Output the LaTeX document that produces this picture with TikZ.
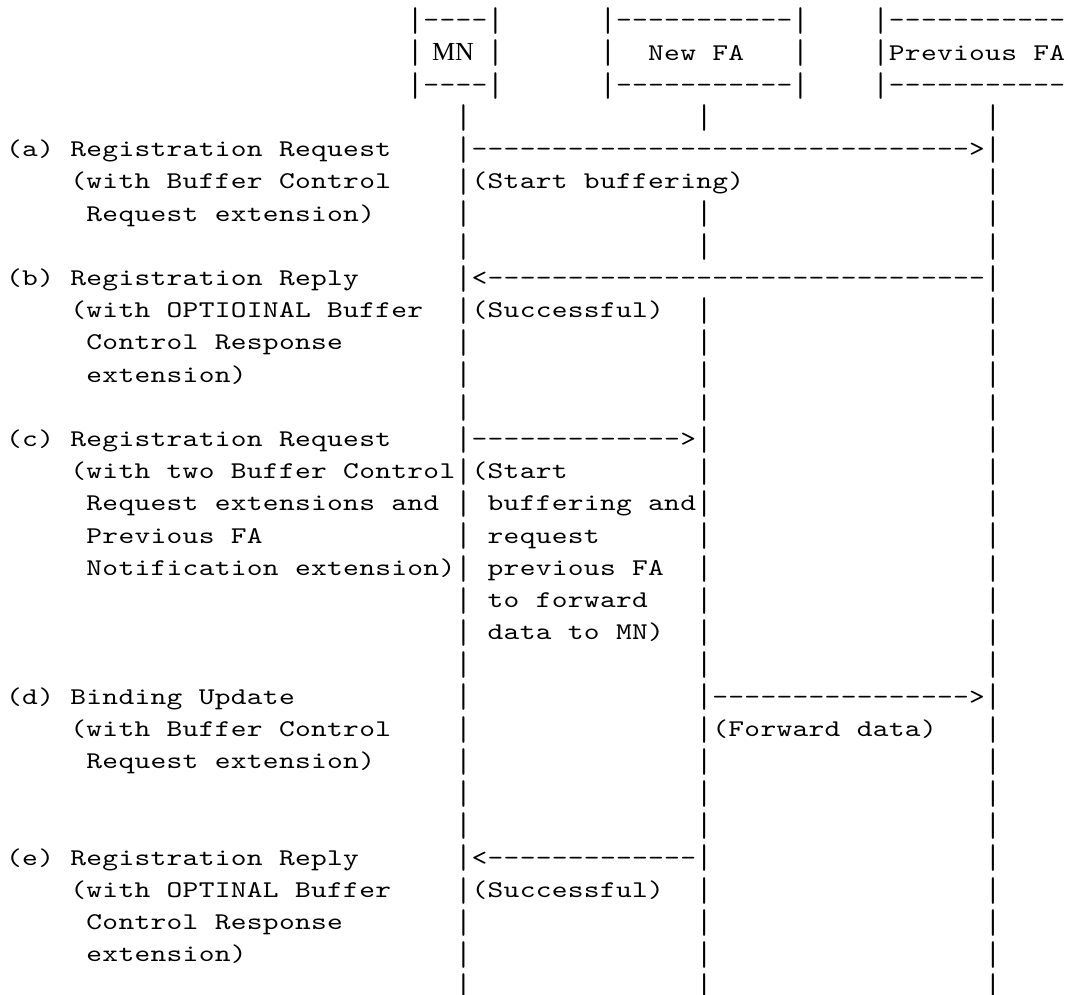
\documentclass[tikz,border=0pt]{standalone}
\usepackage{fontspec}
\usepackage{graphicx}
\newfontfamily\asciifont{lmmono10-regular.otf}[FakeStretch=1.25]
\newfontfamily\mnfont{Liberation Serif}
\newdimen\cw \cw=16.05pt
\def\gtbar{\raisebox{-3.84pt}{\scalebox{1}[1.43]{|}}}
\def\gtchar#1{\ifx#1~\hbox to\cw{\hss}\else\ifx#1|\hbox to\cw{\hss\gtbar\hss}\else\hbox to\cw{\hss#1\hss}\fi\fi}
\def\gtloop#1{\ifx#1\relax\else\gtchar{#1}\expandafter\gtloop\fi}
\newcommand\gt[1]{\gtloop#1\relax}
\newcommand\rep[2]{\foreach\i in {1,...,#1}{\gtchar{#2}}}
\tikzset{asc/.style={inner sep=0pt, outer sep=0pt, anchor=base west,
  font=\asciifont\fontsize{24pt}{30pt}\selectfont}}
\newcommand\seg[4]{\node[asc] (#1) at ({(6+#2*16.05)*1pt}, {-(27.9+#3*32.2)*1pt}) {\gt{#4}};}
\newcommand\arr[4]{\node[asc] (#1) at ({(6+#2*16.05)*1pt}, {-(27.9+#3*32.2)*1pt}) {#4};}
\begin{document}
\begin{tikzpicture}
\useasboundingbox (0,0) rectangle (1070pt,-994pt);
% header boxes
\seg{h0a}{25}{0}{|----|}
\seg{h0b}{37}{0}{|-----------|}
\seg{h0c}{54}{0}{|-----------}
\seg{h1a}{25}{1}{|}
\seg{h1b}{30}{1}{|}
\node[inner sep=0pt, anchor=base, font=\mnfont\fontsize{26pt}{30pt}\selectfont] (mn) at (453pt, {-(27.9+32.2)*1pt}) {MN};
\seg{h1c}{37}{1}{|~~New~FA~~~|}
\seg{h1d}{54}{1}{|Previous~FA}
\seg{h2a}{25}{2}{|----|}
\seg{h2b}{37}{2}{|-----------|}
\seg{h2c}{54}{2}{|-----------}
% lifelines
\foreach \r in {3,...,30} {\seg{mnl\r}{28}{\r}{|}\seg{pfl\r}{61}{\r}{|}}
\foreach \r in {3,6,7,9,10,...,30} {\seg{nfl\r}{43}{\r}{|}}
% messages
\arr{a4}{29}{4}{\rep{31}{-}\gtchar{>}}
\arr{a8}{29}{8}{\gtchar{<}\rep{31}{-}}
\arr{a13}{29}{13}{\rep{13}{-}\gtchar{>}}
\arr{a21}{44}{21}{\rep{16}{-}\gtchar{>}}
\arr{a26}{29}{26}{\gtchar{<}\rep{13}{-}}
% left labels
\seg{t4}{0}{4}{(a)~Registration~Request}
\seg{t5}{4}{5}{(with~Buffer~Control}
\seg{t6}{5}{6}{Request~extension)}
\seg{t8}{0}{8}{(b)~Registration~Reply}
\seg{t9}{4}{9}{(with~OPTIOINAL~Buffer}
\seg{t10}{5}{10}{Control~Response}
\seg{t11}{5}{11}{extension)}
\seg{t13}{0}{13}{(c)~Registration~Request}
\seg{t14}{4}{14}{(with~two~Buffer~Control}
\seg{t15}{5}{15}{Request~extensions~and}
\seg{t16}{5}{16}{Previous~FA}
\seg{t17}{5}{17}{Notification~extension)}
\seg{t21}{0}{21}{(d)~Binding~Update}
\seg{t22}{4}{22}{(with~Buffer~Control}
\seg{t23}{5}{23}{Request~extension)}
\seg{t26}{0}{26}{(e)~Registration~Reply}
\seg{t27}{4}{27}{(with~OPTINAL~Buffer}
\seg{t28}{5}{28}{Control~Response}
\seg{t29}{5}{29}{extension)}
% notes
\seg{n5}{29}{5}{(Start~buffering)}
\seg{n9}{29}{9}{(Successful)}
\seg{n14}{29}{14}{(Start}
\seg{n15}{30}{15}{buffering~and}
\seg{n16}{30}{16}{request}
\seg{n17}{30}{17}{previous~FA}
\seg{n18}{30}{18}{to~forward}
\seg{n19}{30}{19}{data~to~MN)}
\seg{n22}{44}{22}{(Forward~data)}
\seg{n27}{29}{27}{(Successful)}
\end{tikzpicture}
\end{document}
